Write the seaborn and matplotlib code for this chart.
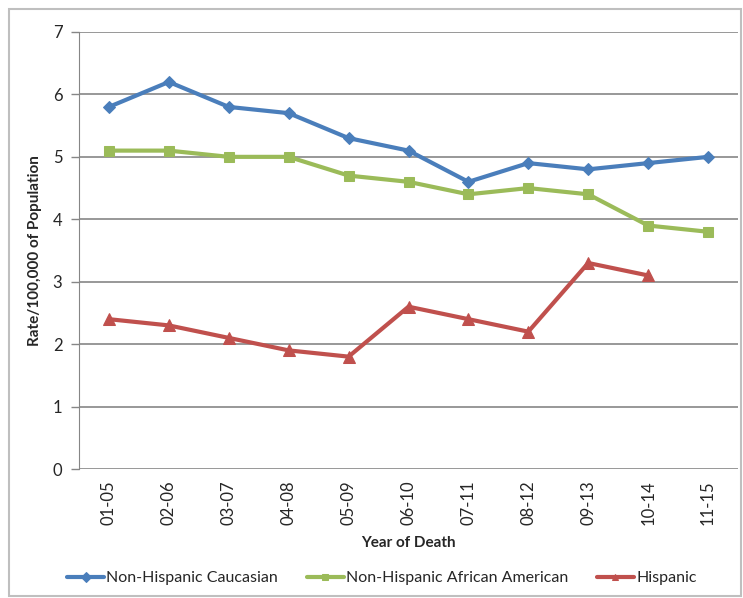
import copy
import pandas as pd
import numpy as np
import matplotlib
matplotlib.use('Agg')
import matplotlib.pyplot as plt
import seaborn as sns
from matplotlib.patches import Rectangle

# data
years = ['01-05', '02-06', '03-07', '04-08', '05-09', '06-10', '07-11', '08-12', '09-13', '10-14', '11-15']
caucasian = [5.8, 6.2, 5.8, 5.7, 5.3, 5.1, 4.6, 4.9, 4.8, 4.9, 5.0]
african_american = [5.1, 5.1, 5.0, 5.0, 4.7, 4.6, 4.4, 4.5, 4.4, 3.9, 3.8]
hispanic = [2.4, 2.3, 2.1, 1.9, 1.8, 2.6, 2.4, 2.2, 3.3, 3.1, np.nan]

groups = ['Non-Hispanic Caucasian', 'Non-Hispanic African American', 'Hispanic']
colors = ['#4A7EBB', '#9BBB59', '#C0504D']
markers = ['D', 's', '^']
sizes = [6, 7, 8]

df = pd.DataFrame({'year': years * 3,
                   'rate': caucasian + african_american + hispanic,
                   'group': np.repeat(groups, len(years))})
df['x'] = list(range(len(years))) * 3

sns.set_style('white')
plt.rcParams['font.family'] = ['Lato', 'DejaVu Sans']

fig = plt.figure(figsize=(7.43, 5.98), dpi=100)
ax = fig.add_axes([0.1063, 0.2157, 0.887, 0.7308])

for g, c, m, s in zip(groups, colors, markers, sizes):
    sub = df[df['group'] == g].dropna()
    sns.lineplot(data=sub, x='x', y='rate', color=c, marker=m, markersize=s,
                 markeredgecolor=c, linewidth=3, ax=ax, label=g, legend=False)

ax.set_xlim(-0.5, len(years) - 0.5)
ax.set_ylim(0, 7)
ax.set_yticks(range(0, 8))
ax.set_xticks(range(len(years)))
ax.set_xticklabels(years, rotation=90, fontsize=12)
ax.tick_params(axis='y', labelsize=12, length=6, color='#868686', width=1, direction='out', left=True, pad=6)
ax.tick_params(axis='x', length=0, pad=8)
ax.yaxis.grid(True, color='#868686', linewidth=1.2)
ax.set_axisbelow(True)
for side in ['top', 'right', 'bottom']:
    ax.spines[side].set_visible(False)
ax.spines['left'].set_color('#868686')

ax.set_xlabel('Year of Death', fontsize=11, fontweight='bold', labelpad=8)
ax.set_ylabel('Rate/100,000 of Population', fontsize=11, fontweight='bold', labelpad=8)

# legend uses copies of the lines so the markers on the plot stay full size
handles, labels = ax.get_legend_handles_labels()
proxies = []
for h in handles:
    p = copy.copy(h)
    p.set_markersize(5)
    proxies.append(p)
fig.legend(proxies, labels, loc='center', bbox_to_anchor=(0.514, 0.033), ncol=3, frameon=False,
           fontsize=11.5, handlelength=2.3, columnspacing=1.8, handletextpad=0.15)

fig.patches.append(Rectangle((0.012, 0.004), 0.985, 0.981, transform=fig.transFigure,
                             fill=False, edgecolor='#BFBFBF', linewidth=1.5))

fig.savefig('out.png', dpi=100)
